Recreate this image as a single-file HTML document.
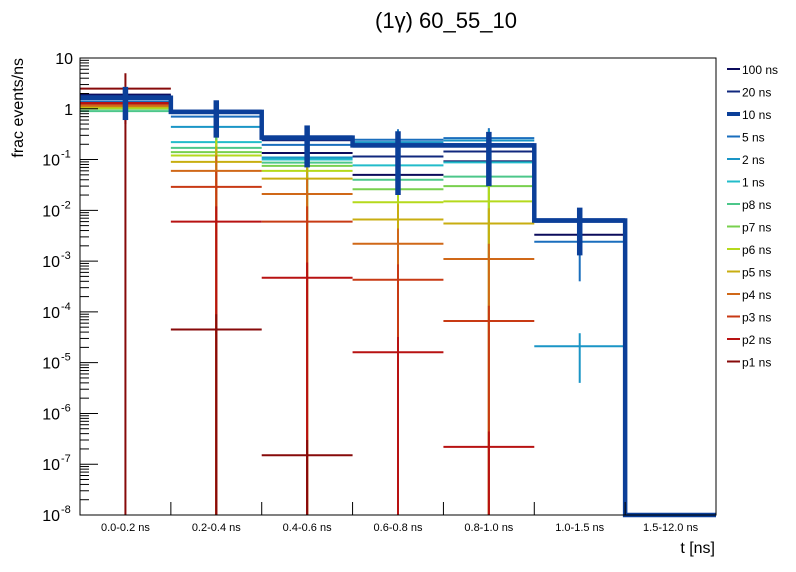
<!DOCTYPE html>
<html><head><meta charset="utf-8"><style>
body{margin:0;background:#fff}
svg{display:block;font-family:"Liberation Sans",sans-serif}
</style></head><body>
<svg id="c" width="796" height="572"></svg>
<script>
const categories=["0.0-0.2 ns","0.2-0.4 ns","0.4-0.6 ns","0.6-0.8 ns","0.8-1.0 ns","1.0-1.5 ns","1.5-12.0 ns"];
const seriesNames=["100 ns","20 ns","10 ns","5 ns","2 ns","1 ns","p8 ns","p7 ns","p6 ns","p5 ns","p4 ns","p3 ns","p2 ns","p1 ns"];
const seriesColors=["#0b0b5c","#10287e","#0b3f99","#1a6ebd","#1a95c6","#22bcca","#4cc78a","#78d04e","#b5d91c","#c8ae10","#d06818","#c83a14","#b81212","#870a0a"];
const v100=[1.9,0.85,0.135,0.05,0.092,0.0033,0];
const v20=[1.8,0.85,0.24,0.115,0.144,0.006,0];
const v10=[1.65,0.87,0.27,0.19,0.19,0.0063,0];
const v5=[1.4,0.7,0.195,0.245,0.265,0.0024,0];
const v2=[1.3,0.44,0.11,0.22,0.237,2.1e-5,0];
const v1=[1.2,0.22,0.1,0.077,0.088,0,0];
const vp8=[0.9,0.17,0.087,0.04,0.046,0,0];
const vp7=[1.0,0.14,0.075,0.026,0.03,0,0];
const vp6=[1.05,0.12,0.06,0.0144,0.015,0,0];
const vp5=[1.1,0.09,0.042,0.0066,0.0055,0,0];
const vp4=[1.15,0.06,0.021,0.0022,0.0011,0,0];
const vp3=[1.25,0.029,0.006,4.3e-4,6.6e-5,0,0];
const vp2=[1.3,0.006,4.7e-4,1.6e-5,2.2e-7,0,0];
const vp1=[2.5,4.5e-5,1.5e-7,0,0,0,0];
const e10=[1.05,0.6,0.2,0.17,0.16,0.005,0];
const e5=[0.5,0.3,0.1,0.15,0.15,0.002,0];
const e2=[0.4,0.2,0.08,0.15,0.15,1.7e-5,0];
const e1=[0.4,0.15,0.08,0.06,0.06,0,0];
const ep8=[0.3,0.15,0.08,0.04,0.045,0,0];
const ep7=[0.4,0.14,0.07,0.026,0.03,0,0];
const ep6=[0.4,0.12,0.06,0.0144,0.015,0,0];
const ep5=[0.5,0.09,0.042,0.0066,0.0055,0,0];
const ep4=[0.5,0.06,0.021,0.0022,0.0011,0,0];
const ep3=[0.6,0.029,0.006,4.3e-4,6.6e-5,0,0];
const ep2=[0.8,0.006,4.7e-4,1.6e-5,2.2e-7,0,0];
const ep1=[2.5,4.5e-5,1.5e-7,0,0,0,0];
const e100=[0.3,0.2,0.05,0.03,0.04,0.002,0];
const e20=[0.3,0.2,0.06,0.05,0.05,0.003,0];
const yTickExps=[1,0,-1,-2,-3,-4,-5,-6,-7,-8];
const seriesVals=[v100,v20,v10,v5,v2,v1,vp8,vp7,vp6,vp5,vp4,vp3,vp2,vp1];
const seriesErrs=[e100,e20,e10,e5,e2,e1,ep8,ep7,ep6,ep5,ep4,ep3,ep2,ep1];

const NS="http://www.w3.org/2000/svg";
const svg=document.getElementById('c');
const X0=80,X1=716,Y0=58,Y1=515,LMIN=-8,LMAX=1;
function xb(i){return X0+(X1-X0)*i/categories.length;}
function yv(v){if(v<=0)return Y1;let l=Math.log10(v);if(l<LMIN)l=LMIN;if(l>LMAX)l=LMAX;return Y1-(l-LMIN)/(LMAX-LMIN)*(Y1-Y0);}
function el(t,a,p){const e=document.createElementNS(NS,t);for(const k in a)e.setAttribute(k,a[k]);(p||svg).appendChild(e);return e;}

let t=el('text',{x:446,y:28,'font-size':22,'text-anchor':'middle',fill:'#000'});t.textContent='(1γ) 60_55_10';


const order=[0,1,3,4,5,6,7,8,9,10,11,12,13,2];
for(const s of order){
  const g=el('g',{});
  
  
  const vals=seriesVals[s],errs=seriesErrs[s],col=seriesColors[s],w=s===2?4.5:2;
  if(s===2){
    let d='';
    for(let i=0;i<categories.length;i++){const y=yv(vals[i]);d+=(i===0?'M':'L')+xb(i)+','+y+'L'+xb(i+1)+','+y;}
    const p=el('path',{d:d,fill:'none',stroke:col,'stroke-width':w},g);
    
    
  }
  for(let i=0;i<categories.length;i++){
    const v=vals[i];if(!(v>0))continue;
    const y=yv(v);
    const h=el('line',{x1:xb(i),x2:xb(i+1),y1:y,y2:y,stroke:col,'stroke-width':w},g);
    
    
    const xc=(xb(i)+xb(i+1))/2,e=errs[i];
    const vl=el('line',{x1:xc,x2:xc,y1:yv(v+e),y2:yv(v-e),stroke:col,'stroke-width':w+(s===2?1:0)},g);
    
    
  }
}
const fr=el('rect',{x:X0,y:Y0,width:X1-X0,height:Y1-Y0,fill:'none',stroke:'#000','stroke-width':1});


for(const ex of yTickExps){
  const y=yv(Math.pow(10,ex));
  const tk=el('line',{x1:X0,x2:X0+18,y1:y,y2:y,stroke:'#000'});
  
  
  if(ex>LMIN)for(let m=2;m<=9;m++){const ym=yv(m*Math.pow(10,ex-1));
    const mt=el('line',{x1:X0,x2:X0+9,y1:ym,y2:ym,stroke:'#000'});
    
    }
  const lb=el('text',{x:ex>=0?73:60,y:y+6,'font-size':16,'text-anchor':'end',fill:'#000'});
  
  
  if(ex===1)lb.textContent='10';else if(ex===0)lb.textContent='1';
  else{lb.textContent='10';const sp=el('tspan',{dy:-8,'font-size':11,x:61},lb);sp.setAttribute('text-anchor','start');sp.textContent=String(ex);}
}
for(let i=0;i<categories.length;i++){
  const x=xb(i);
  if(i>0){const tk=el('line',{x1:x,x2:x,y1:Y1,y2:Y1-13,stroke:'#000'});
  
  }
  const lb=el('text',{x:(xb(i)+xb(i+1))/2,y:531,'font-size':11,'text-anchor':'middle',fill:'#000'});
  lb.textContent=categories[i];
  
  
}
let xt=el('text',{x:715,y:553,'font-size':16,'text-anchor':'end'});xt.textContent='t [ns]';


let yt=el('text',{x:0,y:0,'font-size':16,'text-anchor':'end',transform:'translate(23,58) rotate(-90)'});yt.textContent='frac events/ns';


for(let s=0;s<seriesNames.length;s++){
  const y=69+s*22.5;
  const g=el('g',{});
  
  
  el('line',{x1:727,x2:740,y1:y,y2:y,stroke:seriesColors[s],'stroke-width':s===2?4:2},g);
  const tx=el('text',{x:742,y:y+5,'font-size':12,fill:'#000'},g);tx.textContent=seriesNames[s];
}
</script>
</body></html>
